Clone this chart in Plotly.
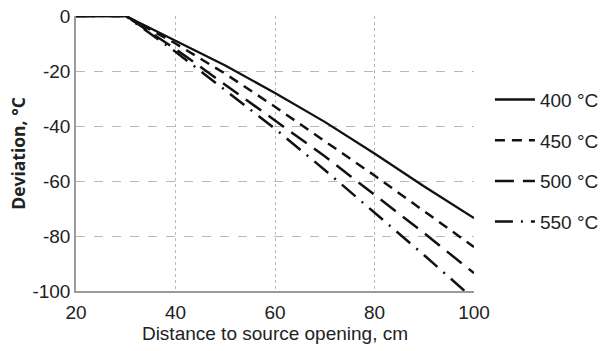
import plotly.graph_objects as go

distance = [20, 30, 40, 50, 60, 70, 80, 90, 100]
series_names = ["400 °C", "450 °C", "500 °C", "550 °C"]
dev_400 = [0, 0, -9, -18, -28, -38.5, -50, -62, -73.5]
dev_450 = [0, 0, -10, -21, -33, -45.5, -58, -71, -84]
dev_500 = [0, 0, -12, -25, -38, -51, -65, -79, -93.5]
dev_550 = [0, 0, -13, -27, -41, -56, -71.5, -87, -103]
x_ticks = [20, 40, 60, 80, 100]
y_ticks = [0, -20, -40, -60, -80, -100]

series = [dev_400, dev_450, dev_500, dev_550]
dashes = ["solid", "10px,7px", "19px,9px", "18px,8px,2px,8px"]
widths = [2.3, 2.5, 2.5, 2.5]

fig = go.Figure()
for i, (name, ys) in enumerate(zip(series_names, series)):
    fig.add_trace(go.Scatter(
        x=distance, y=ys, mode="lines", name=name, legendgroup=name,
        line=dict(color="#111111", width=widths[i], dash=dashes[i]),
    ))

font_family = "Liberation Sans, Arial, sans-serif"
fig.update_layout(
    width=606, height=351,
    margin=dict(l=76, r=132, t=16, b=60, autoexpand=False),
    paper_bgcolor="white", plot_bgcolor="white",
    font=dict(family=font_family, size=19, color="#222222"),
    showlegend=True,
    legend=dict(x=1.04, xanchor="left", y=0.765, yanchor="top",
                font=dict(size=19, color="#222222"),
                tracegroupgap=13, itemwidth=40, bgcolor="rgba(0,0,0,0)"),
    xaxis=dict(
        range=[20, 100], tickvals=x_ticks, ticktext=[str(v) for v in x_ticks],
        showgrid=True, gridcolor="#b8b8b8", griddash="dot", gridwidth=1,
        showline=True, linecolor="#9a9a9a", linewidth=1.5,
        zeroline=False, ticks="", ticklen=0, ticklabelstandoff=3,
        title=dict(text="Distance to source opening, cm", font=dict(size=19), standoff=5),
        tickfont=dict(size=19),
    ),
    yaxis=dict(
        range=[-100, 0], tickvals=y_ticks, ticktext=[str(v) for v in y_ticks],
        showgrid=True, gridcolor="#b8b8b8", griddash="dash", gridwidth=1,
        showline=True, linecolor="#9a9a9a", linewidth=1.5,
        zeroline=False, ticks="", ticklen=0,
        title=dict(text="<b>Deviation, °C</b>",
                   font=dict(size=17.5, family="Open Sans, sans-serif"), standoff=2),
        tickfont=dict(size=19),
    ),
)
fig.write_html("out.html")
